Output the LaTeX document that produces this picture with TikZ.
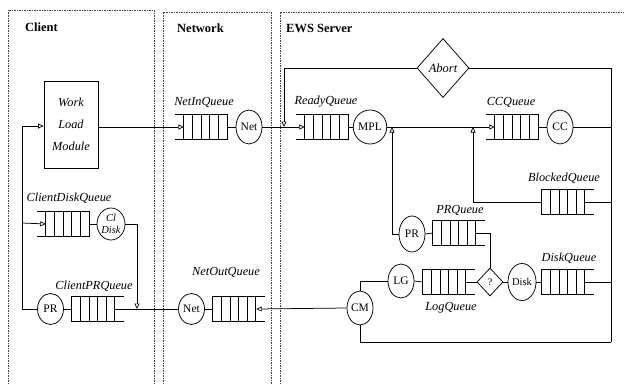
\documentclass[tikz,border=0pt]{standalone}
\usepackage{fontspec}
\setmainfont{Liberation Serif}
\usetikzlibrary{shapes.geometric,arrows.meta}

% queue drawn open on the left (jobs enter from the left)
\newcommand{\fwdqueue}[2]{%
  \node[qbox] (#1) at (#2) {};
  \draw[qline] (#1.north west) -- (#1.north east) -- (#1.south east) -- (#1.south west);
  \foreach \k in {0,...,4}
    \draw[qline] ([xshift=9pt+\k*8.6pt]#1.north west) -- ([xshift=9pt+\k*8.6pt]#1.south west);
  \coordinate (#1-in) at ([xshift=9pt]#1.west);
}
% queue drawn open on the right (jobs enter from the right)
\newcommand{\revqueue}[2]{%
  \node[qbox] (#1) at (#2) {};
  \draw[qline] (#1.north east) -- (#1.north west) -- (#1.south west) -- (#1.south east);
  \foreach \k in {1,...,5}
    \draw[qline] ([xshift=\k*8.6pt]#1.north west) -- ([xshift=\k*8.6pt]#1.south west);
  \coordinate (#1-in) at ([xshift=-9pt]#1.east);
}

\tikzset{
  conn/.style={line width=0.75pt},
  qline/.style={line width=0.7pt},
  arr/.style={-{Triangle[open,length=5.5pt,width=5pt,line width=0.7pt]}},
  qbox/.style={rectangle, minimum width=52pt, minimum height=25pt, inner sep=0pt, draw=none},
  srv/.style={ellipse, draw, line width=0.75pt, inner sep=0pt, minimum width=26pt, minimum height=34pt,
              font=\fontsize{11.5}{12}\selectfont},
  lbl/.style={font=\fontsize{12.3}{14}\selectfont\itshape, inner sep=0pt},
  zone/.style={draw=black!75, line width=0.6pt, dash pattern=on 1.5pt off 1pt},
  ttl/.style={font=\fontsize{12.5}{14}\selectfont\bfseries, anchor=west, inner sep=0pt},
}

\begin{document}
\begin{tikzpicture}[x=1pt,y=-1pt]
\useasboundingbox (0,0) rectangle (624,383);

% subsystem frames
\draw[zone] (8,384) -- (8,10) -- (154,10) -- (154,384);
\draw[zone] (163,384) -- (163,12) -- (271,12) -- (271,384);
\draw[zone] (280,384) -- (280,12) -- (625,12);
\node[ttl] (tcl) at (25,27) {Client};
\node[ttl] (tnw) at (177,28) {Network};
\node[ttl] (tsv) at (286,28) {EWS Server};

% client
\node[draw, line width=0.75pt, minimum width=54pt, minimum height=87pt, inner sep=0pt,
      align=center, font=\fontsize{12.3}{22}\selectfont\itshape] (wlm) at (71,124.5) {Work\\Load\\Module};
\fwdqueue{cdq}{63,224}
\node[srv, minimum width=28pt, minimum height=32pt, align=center,
      font=\fontsize{10.5}{12.5}\selectfont\itshape] (cld) at (111,224) {Cl\\Disk};
\revqueue{cpq}{98,309}
\node[srv, minimum height=31pt] (pr1) at (50.5,309) {PR};

% network
\fwdqueue{nin}{201,127}
\node[srv] (net1) at (249,127) {Net};
\revqueue{noq}{239,309}
\node[srv, minimum height=31pt] (net2) at (191.5,309) {Net};

% server
\fwdqueue{rdy}{322,127}
\node[srv] (mpl) at (370,127) {MPL};
\fwdqueue{ccq}{512,127}
\node[srv] (cc) at (560,127) {CC};
\node[diamond, draw, line width=0.75pt, minimum width=52pt, minimum height=59pt, inner sep=0pt,
      font=\fontsize{12.5}{14}\selectfont\itshape] (abort) at (443,68) {Abort};
\revqueue{bq}{568,202}
\revqueue{prq}{459,233}
\node[srv, minimum height=36pt] (prs) at (412,234) {PR};
\revqueue{logq}{449,282}
\node[srv] (lg) at (401,281) {LG};
\node[diamond, draw, line width=0.75pt, minimum width=26pt, minimum height=28pt, inner sep=0pt,
      font=\fontsize{10}{12}\selectfont] (qd) at (490,282) {?};
\node[srv, minimum width=27pt, minimum height=37pt, font=\fontsize{10.5}{12}\selectfont] (disk) at (522,282) {Disk};
\revqueue{dq}{568,282}
\node[srv] (cm) at (360,308) {CM};

% queue names
\node[lbl] (l-nin) at (204,102) {NetInQueue};
\node[lbl] (l-rdy) at (326,102) {ReadyQueue};
\node[lbl] (l-ccq) at (511,102) {CCQueue};
\node[lbl] (l-bq) at (564,178) {BlockedQueue};
\node[lbl] (l-prq) at (460,210) {PRQueue};
\node[lbl] (l-dq) at (569,258) {DiskQueue};
\node[lbl] (l-logq) at (451,308) {LogQueue};
\node[lbl] (l-noq) at (226,272) {NetOutQueue};
\node[lbl] (l-cdq) at (69,198) {ClientDiskQueue};
\node[lbl] (l-cpq) at (94,286) {ClientPRQueue};

% junction points
\coordinate (rbot) at (611,342);
\coordinate (jA) at (284,127);
\coordinate (jM) at (392,127);
\coordinate (jB) at (473,127);
\coordinate (jL) at (22,126);
\coordinate (jD) at (22,223);
\coordinate (jC) at (137,309);

% request path
\draw[conn,arr] (wlm.east |- nin-in) -- (nin-in);
\draw[conn] (nin.east) -- (net1.west);
\draw[conn,arr] (net1.east) -- (rdy-in);
\draw[conn] (rdy.east) -- (mpl.west);
\draw[conn,arr] (mpl.east) -- (ccq-in);
\draw[conn] (ccq.east) -- (cc.west);
\draw[conn] (cc.east) -- (cc.east -| rbot);
\draw[conn] (abort.east) -| (rbot);
\draw[conn,arr] (abort.west) -| (jA);
\draw[conn,arr] (bq.west) -| (jB);
\draw[conn] (bq-in) -- (bq-in -| rbot);
\draw[conn,arr] (prs.west) -| (jM);
\draw[conn] (prs.east) -- (prq.west);
\draw[conn] (prq-in) -| (qd.north);
\draw[conn] (qd.west) -- (logq-in);
\draw[conn] (logq.west) -- (lg.east);
\draw[conn] (qd.east) -- (disk.west);
\draw[conn] (disk.east) -- (dq.west);
\draw[conn] (dq-in) -- (dq-in -| rbot);
\draw[conn] (lg.west) -| (cm.north);
\draw[conn] (cm.south) |- (rbot);

% reply path
\draw[conn,arr] (cm.west) -- (noq-in);
\draw[conn] (noq.west) -- (net2.east);
\draw[conn] (net2.west) -- (cpq-in);
\draw[conn] (cpq.west) -- (pr1.east);
\draw[conn,arr] (pr1.west) -| (jL) -- (jL -| wlm.west);
\draw[conn,arr] (jD) -- (cdq-in);
\draw[conn] (cdq.east) -- (cld.west);
\draw[conn,arr] (cld.east) -| (jC);
\end{tikzpicture}
\end{document}
